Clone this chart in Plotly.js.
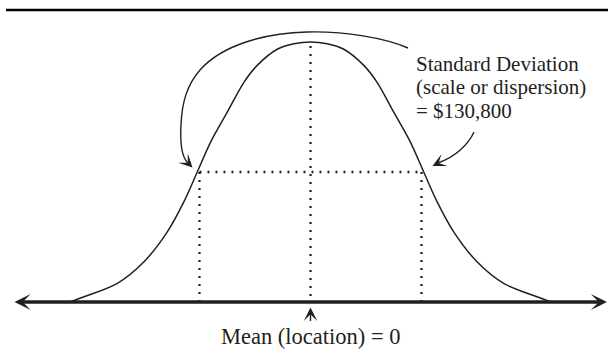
<!DOCTYPE html>
<html>
<head>
<meta charset="utf-8">
<script src="https://cdn.plot.ly/plotly-3.0.1.min.js"></script>
<style>html,body{margin:0;padding:0;background:#fff;}#chart{width:608px;height:358px;}</style>
</head>
<body>
<div id="chart"></div>
<script>
// ---- data (x in standard deviations from the mean, height relative to peak) ----
const curveX = [-2.17, -2.04, -1.74, -1.5, -1.29, -1.14, -1.02, -0.9, -0.75, -0.6, -0.48, -0.3, -0.15, 0, 0.15, 0.3, 0.48, 0.6, 0.75, 0.9, 1.02, 1.14, 1.29, 1.5, 1.74, 2.04, 2.17];
const curveY = [0, 0.02, 0.072, 0.155, 0.27, 0.386, 0.5, 0.615, 0.73, 0.845, 0.91, 0.972, 0.993, 1.0, 0.993, 0.972, 0.91, 0.845, 0.73, 0.615, 0.5, 0.386, 0.27, 0.155, 0.072, 0.02, 0];
const sdMarks = [-1, 0, 1];          // mean - sd, mean, mean + sd
const sdLevel = 0.5;                 // curve height at +/- one sd
const meanTop = 0.985;               // top of the mean guide
const sdLabel = ["Standard Deviation", "(scale or dispersion)", "= $130,800"];
const meanLabel = "Mean (location) = 0";

// ---- layout helpers (pixel -> paper / data) ----
const W = 608, H = 358;
const X0 = 310.5, SX = 111, Y0 = 302, SY = 260;
const dx = p => (p - X0) / SX;
const dy = p => (Y0 - p) / SY;
const px = v => v / W;
const py = v => 1 - v / H;
const P = (x, y) => px(x).toFixed(5) + ',' + py(y).toFixed(5);
const INK = '#231f20';
const FAMILY = 'Liberation Serif, Times New Roman, serif';
const LABEL_PX = 21;

const dotLine = {color: INK, width: 2.3, dash: '2px,6px'};
const traces = [
  {x: curveX, y: curveY, type: 'scatter', mode: 'lines',
   line: {color: INK, width: 1.5, shape: 'spline', smoothing: 0.9}, hoverinfo: 'skip'},
  {x: [sdMarks[0], sdMarks[2]], y: [sdLevel, sdLevel], type: 'scatter', mode: 'lines', line: dotLine, hoverinfo: 'skip'},
  {x: [sdMarks[0], sdMarks[0]], y: [sdLevel, 0], type: 'scatter', mode: 'lines', line: dotLine, hoverinfo: 'skip'},
  {x: [sdMarks[2], sdMarks[2]], y: [sdLevel, 0], type: 'scatter', mode: 'lines', line: dotLine, hoverinfo: 'skip'},
  {x: [sdMarks[1], sdMarks[1]], y: [meanTop, 0], type: 'scatter', mode: 'lines', line: dotLine, hoverinfo: 'skip'}
];

const bigArrow = 'M' + P(408, 48) +
  ' C' + P(385, 38) + ' ' + P(345, 31) + ' ' + P(307, 32) +
  ' C' + P(265, 33) + ' ' + P(222, 45) + ' ' + P(200, 70) +
  ' C' + P(188, 84) + ' ' + P(182, 100) + ' ' + P(181, 125) +
  ' C' + P(180, 143) + ' ' + P(181, 155) + ' ' + P(187, 162);
const smallArrow = 'M' + P(474, 132) +
  ' C' + P(468, 145) + ' ' + P(455, 157) + ' ' + P(439, 162.5);

const annotations = [];
// horizontal number line with arrows at both ends
annotations.push({xref: 'paper', yref: 'paper', x: px(607), y: py(302), ax: 13 - 607, ay: 0,
  showarrow: true, arrowhead: 3, startarrowhead: 3, arrowside: 'end+start', arrowwidth: 3.6, arrowsize: 0.75,
  startarrowsize: 0.75, arrowcolor: INK, text: ''});
// arrowheads of the curved pointers
annotations.push({xref: 'paper', yref: 'paper', x: px(192.5), y: py(167.5), ax: -7, ay: -7,
  showarrow: true, arrowhead: 3, arrowwidth: 1.4, arrowsize: 1.6, arrowcolor: INK, text: ''});
annotations.push({xref: 'paper', yref: 'paper', x: px(432.5), y: py(166), ax: 8, ay: -4,
  showarrow: true, arrowhead: 3, arrowwidth: 1.4, arrowsize: 1.6, arrowcolor: INK, text: ''});
// mean pointer
annotations.push({xref: 'paper', yref: 'paper', x: px(310.5), y: py(307.5), ax: 0, ay: 15,
  showarrow: true, arrowhead: 3, arrowwidth: 1.4, arrowsize: 1.6, arrowcolor: INK, text: ''});
// labels: line spacing follows the base size, glyphs use the span size
annotations.push({xref: 'paper', yref: 'paper', x: px(415), y: py(51.5), xanchor: 'left', yanchor: 'top',
  align: 'left', showarrow: false, borderpad: 0,
  text: sdLabel.map(t => '<span style="font-size:' + LABEL_PX + 'px">' + t + '</span>').join('<br>'),
  font: {family: FAMILY, size: 18, color: INK}});
annotations.push({xref: 'paper', yref: 'paper', x: px(310.5), y: py(336.5), xanchor: 'center', yanchor: 'middle',
  showarrow: false, text: meanLabel, font: {family: FAMILY, size: 22.5, color: INK}});

const layout = {
  width: W, height: H,
  margin: {l: 0, r: 0, t: 0, b: 0, pad: 0},
  paper_bgcolor: '#ffffff', plot_bgcolor: '#ffffff',
  showlegend: false, hovermode: false,
  xaxis: {visible: false, range: [dx(0), dx(W)], fixedrange: true},
  yaxis: {visible: false, range: [dy(H), dy(0)], fixedrange: true},
  shapes: [
    {type: 'line', xref: 'paper', yref: 'paper', x0: px(6), x1: 1, y0: py(10), y1: py(10), line: {color: '#000', width: 2.4}},
    {type: 'path', xref: 'paper', yref: 'paper', path: bigArrow, line: {color: INK, width: 1.4}},
    {type: 'path', xref: 'paper', yref: 'paper', path: smallArrow, line: {color: INK, width: 1.4}}
  ],
  annotations: annotations
};

Plotly.newPlot('chart', traces, layout, {staticPlot: true, displayModeBar: false});
</script>
</body>
</html>
